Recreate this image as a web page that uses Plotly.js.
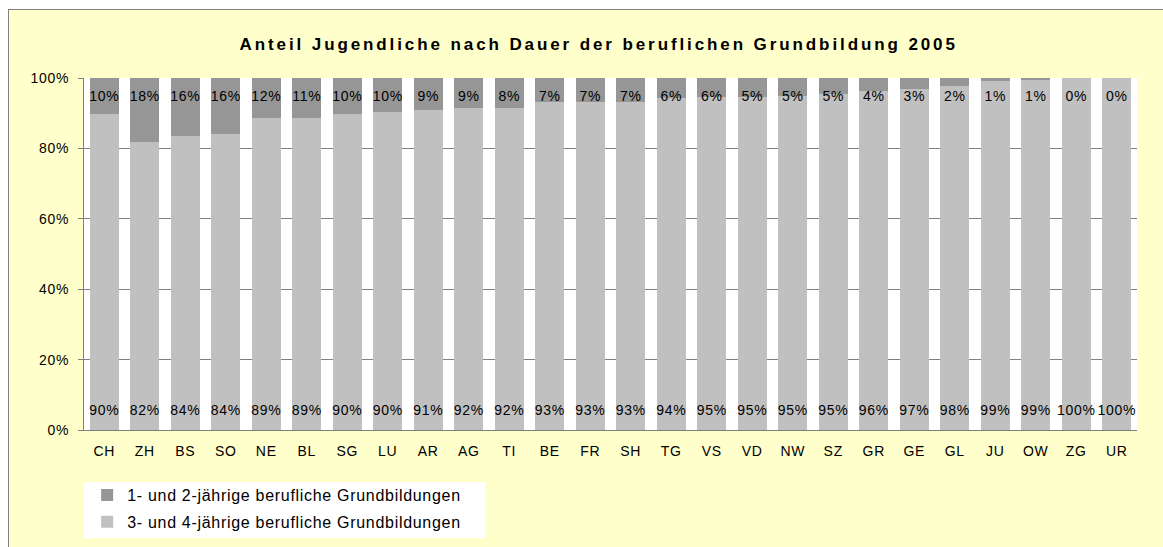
<!DOCTYPE html>
<html><head><meta charset="utf-8">
<script src="https://cdn.plot.ly/plotly-3.0.1.min.js"></script>
<style>
html,body{margin:0;padding:0;background:#ffffff;overflow:hidden;}
#chart{position:absolute;left:8px;top:9px;width:1154px;height:537px;border-left:1px solid #808080;border-top:1px solid #808080;}
svg text{letter-spacing:0.7px;}
#chart .gtitle{letter-spacing:2.9px !important;}
</style></head><body><div id="chart"></div>
<script>
const cantons = ['CH','ZH','BS','SO','NE','BL','SG','LU','AR','AG','TI','BE','FR','SH','TG','VS','VD','NW','SZ','GR','GE','GL','JU','OW','ZG','UR'];
// shares in % (bar heights)
const shareLong  = [89.8,81.8,83.6,84.1,88.7,88.7,89.8,90.4,91.0,91.6,91.6,93.3,93.3,93.3,94.2,94.5,94.6,95.0,95.5,96.2,96.8,97.8,99.1,99.5,100,100];
const shareShort = [10.2,18.2,16.4,15.9,11.3,11.3,10.2,9.6,9.0,8.4,8.4,6.7,6.7,6.7,5.8,5.5,5.4,5.0,4.5,3.8,3.2,2.2,0.9,0.5,0,0];
// printed data labels
const labelShort = [10,18,16,16,12,11,10,10,9,9,8,7,7,7,6,6,5,5,5,4,3,2,1,1,0,0];
const labelLong  = [90,82,84,84,89,89,90,90,91,92,92,93,93,93,94,95,95,95,95,96,97,98,99,99,100,100];
const nameShort = '1- und 2-jährige berufliche Grundbildungen';
const nameLong  = '3- und 4-jährige berufliche Grundbildungen';
const titleText = 'Anteil Jugendliche nach Dauer der beruflichen Grundbildung 2005';

const FONT = 'Liberation Sans, Arial, sans-serif';
const topLabelY = cantons.map(() => 94.6);
const bottomLabelY = cantons.map(() => 5.2);

const traces = [
  {type:'bar', x:cantons, y:shareLong, name:nameLong, marker:{color:'#C0C0C0', line:{width:0}},
   legendgroup:'b', legendrank:2, hoverinfo:'skip'},
  {type:'bar', x:cantons, y:shareShort, name:nameShort, marker:{color:'#969696', line:{width:0}},
   legendgroup:'a', legendrank:1, hoverinfo:'skip'},
  {type:'scatter', mode:'text', x:cantons, y:topLabelY, text:labelShort.map(v => v + '%'),
   textposition:'middle center', textfont:{family:FONT, size:14, color:'#000'}, showlegend:false, hoverinfo:'skip', cliponaxis:false},
  {type:'scatter', mode:'text', x:cantons, y:bottomLabelY, text:labelLong.map(v => v + '%'),
   textposition:'middle center', textfont:{family:FONT, size:14, color:'#000'}, showlegend:false, hoverinfo:'skip', cliponaxis:false}
];

const layout = {
  width:1154, height:537,
  paper_bgcolor:'#FFFFCC', plot_bgcolor:'#FFFFFF',
  margin:{l:75, r:26, t:68, b:117},
  barmode:'stack', bargap:0.284,
  font:{family:FONT, size:14, color:'#000'},
  title:{text:titleText, font:{family:FONT, size:17, weight:'bold', color:'#000'},
         xref:'container', x:0.511, xanchor:'center', yref:'container', y:0.937, yanchor:'middle'},
  xaxis:{type:'category', range:[-0.5, cantons.length - 0.5], autorange:false, showgrid:false,
         showline:true, linecolor:'#808080', linewidth:1,
         ticks:'', tickfont:{family:FONT, size:14}, ticklabelstandoff:8, fixedrange:true},
  yaxis:{range:[0,100], autorange:false, tickvals:[0,20,40,60,80,100], ticktext:['0%','20%','40%','60%','80%','100%'],
         showgrid:true, gridcolor:'#808080', gridwidth:1, zeroline:false,
         showline:true, linecolor:'#808080', linewidth:1, ticks:'outside', ticklen:5, tickcolor:'#808080',
         tickfont:{family:FONT, size:14}, ticklabelstandoff:6, fixedrange:true},
  shapes:[{type:'rect', xref:'paper', yref:'paper', x0:0, x1:0.3808, y0:-0.3068, y1:-0.1477,
           fillcolor:'#FFFFFF', line:{width:0}, layer:'below'}],
  showlegend:true,
  legend:{xref:'paper', x:0.003, xanchor:'left', yref:'container', y:0.1285, yanchor:'top',
          bgcolor:'rgba(0,0,0,0)', borderwidth:0,
          font:{family:FONT, size:16}, traceorder:'grouped', tracegroupgap:3}
};

Plotly.newPlot('chart', traces, layout, {displayModeBar:false, staticPlot:true});
</script></body></html>
